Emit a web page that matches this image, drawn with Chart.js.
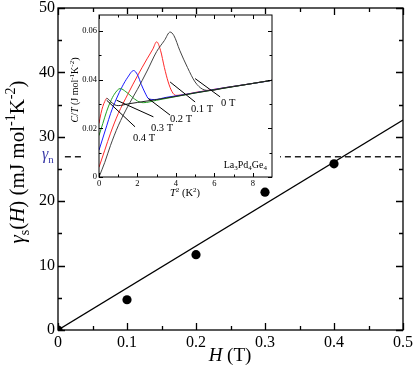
<!DOCTYPE html>
<html><head><meta charset="utf-8">
<script src="https://cdn.jsdelivr.net/npm/chart.js@4"></script>
<style>
html,body{margin:0;padding:0;background:#fff;}
#wrap{position:relative;width:415px;height:372px;overflow:hidden;}
#main{position:absolute;left:0;top:0;}
#inset{position:absolute;left:60px;top:10px;}
</style></head><body>
<div id="wrap"><canvas id="main" width="415" height="372"></canvas><canvas id="inset" width="225" height="192"></canvas></div>
<script>
// ---------- main data ----------
const fieldH = [0, 0.1, 0.2, 0.3, 0.4];
const gammaS = [0, 4.7, 11.7, 21.4, 25.8];
const fitH = [0, 0.5];
const fitGamma = [0, 32.6];
const gammaNValue = 26.9;
const gammaNRange = [0.01, 0.5];
const xTicksMain = [0, 0.1, 0.2, 0.3, 0.4, 0.5];
const xTickLabelsMain = ['0', '0.1', '0.2', '0.3', '0.4', '0.5'];
const xMinorMain = [0.05, 0.15, 0.25, 0.35, 0.45];
const yTicksMain = [0, 10, 20, 30, 40, 50];
const yTickLabelsMain = ['0', '10', '20', '30', '40', '50'];
const yMinorMain = [5, 15, 25, 35, 45];

// ---------- inset data (T^2 in K^2, C/T in J mol-1 K-2) ----------
const t2_0T = [0,0.3,0.6,1.0,1.5,2.0,2.5,3.0,3.4,3.7,3.9,4.2,4.6,5.0,5.4,5.8,6.5,7.5,8.5,9.0];
const ct_0T = [0,0.006,0.013,0.021,0.029,0.036,0.0435,0.0515,0.056,0.0595,0.058,0.052,0.045,0.039,0.036,0.0355,0.0366,0.0378,0.0391,0.0397];
const t2_01T = [0,0.3,0.6,1.0,1.5,2.0,2.5,2.8,3.0,3.2,3.4,3.6,3.8,4.0,4.5,5.0,6.0,7.0,8.0,9.0];
const ct_01T = [0.004,0.011,0.018,0.026,0.034,0.0415,0.0485,0.0525,0.0555,0.052,0.045,0.039,0.035,0.0335,0.0339,0.0347,0.036,0.0372,0.0384,0.0397];
const t2_02T = [0,0.2,0.4,0.6,0.9,1.2,1.5,1.8,2.0,2.2,2.4,2.6,2.9,3.5,4.5,5.5,6.5,7.5,8.5,9.0];
const ct_02T = [0.011,0.016,0.021,0.026,0.032,0.037,0.041,0.0437,0.042,0.038,0.0345,0.032,0.0318,0.0327,0.0339,0.0353,0.0366,0.0378,0.039,0.0397];
const t2_03T = [0,0.2,0.4,0.6,0.8,1.1,1.4,1.7,2.0,2.3,3.0,4.0,5.0,6.0,7.0,8.0,9.0];
const ct_03T = [0.017,0.022,0.027,0.031,0.034,0.0363,0.035,0.033,0.0312,0.0305,0.0315,0.033,0.0345,0.0358,0.0371,0.0384,0.0397];
const t2_04T = [0,0.1,0.2,0.3,0.4,0.6,0.8,1.0,1.5,2.0,3.0,4.0,5.0,6.0,7.0,8.0,9.0];
const ct_04T = [0.022,0.026,0.029,0.031,0.0323,0.031,0.0297,0.0293,0.03,0.0306,0.0318,0.0331,0.0345,0.0358,0.0371,0.0384,0.0397];
const fieldLabels = ['0 T', '0.1 T', '0.2 T', '0.3 T', '0.4 T'];
const labelPos = [[6.72,0.0307],[5.36,0.0282],[4.27,0.0241],[3.28,0.0204],[2.34,0.0163]];
const leaderStart = [[5.0,0.0404],[3.7,0.039],[2.57,0.0322],[0.92,0.0315],[0.4,0.0315]];
const leaderEnd = [[6.3,0.0329],[5.0,0.0308],[3.7,0.0254],[2.83,0.0247],[1.875,0.0206]];
const xTicksInset = [0, 2, 4, 6, 8];
const xTickLabelsInset = ['0', '2', '4', '6', '8'];
const xMinorInset = [1, 3, 5, 7];
const yTicksInset = [0, 0.02, 0.04, 0.06];
const yTickLabelsInset = ['0', '0.02', '0.04', '0.06'];
const yMinorInset = [0.01, 0.03, 0.05];

const FAM = "'Liberation Serif','Times New Roman',serif";
const pts = (xs, ys) => xs.map((v, i) => ({x: v, y: ys[i]}));

function drawRich(ctx, runs, x, y, size, opt) {
  opt = opt || {};
  const font = r => (r.i ? 'italic ' : '') + ((r.sub || r.sup) ? Math.round(size * 0.68) : size) + 'px ' + FAM;
  let w = 0;
  runs.forEach(r => { ctx.font = font(r); w += ctx.measureText(r.t).width; });
  ctx.save();
  ctx.translate(x, y);
  if (opt.rot) ctx.rotate(-Math.PI / 2);
  ctx.fillStyle = opt.color || '#000';
  ctx.textBaseline = 'alphabetic';
  ctx.textAlign = 'left';
  let cx = opt.align === 'left' ? 0 : opt.align === 'right' ? -w : -w / 2;
  runs.forEach(r => {
    ctx.font = font(r);
    const dy = r.sub ? size * 0.22 : r.sup ? -size * 0.42 : 0;
    ctx.fillText(r.t, cx, dy);
    cx += ctx.measureText(r.t).width;
  });
  ctx.restore();
}

const frameTicks = {
  id: 'frameTicks',
  afterDatasetsDraw(chart, args, o) {
    const {ctx, chartArea: ca, scales: {x, y}} = chart;
    ctx.save();
    ctx.strokeStyle = '#000';
    ctx.lineWidth = o.lw;
    ctx.beginPath();
    const xt = (vals, len) => vals.forEach(v => {
      const p = Math.round(x.getPixelForValue(v)) + 0.5;
      ctx.moveTo(p, ca.bottom); ctx.lineTo(p, ca.bottom - len);
      ctx.moveTo(p, ca.top); ctx.lineTo(p, ca.top + len);
    });
    const yt = (vals, len) => vals.forEach(v => {
      const p = Math.round(y.getPixelForValue(v)) + 0.5;
      ctx.moveTo(ca.left, p); ctx.lineTo(ca.left + len, p);
      ctx.moveTo(ca.right, p); ctx.lineTo(ca.right - len, p);
    });
    xt(o.xMajor, o.maj); xt(o.xMinor, o.min);
    yt(o.yMajor, o.maj); yt(o.yMinor, o.min);
    ctx.stroke();
    ctx.strokeRect(ca.left, ca.top, ca.right - ca.left, ca.bottom - ca.top);
    ctx.restore();
  }
};

const mainText = {
  id: 'mainText',
  afterDraw(chart) {
    const {ctx, chartArea: ca, scales: {y}} = chart;
    drawRich(ctx, [{t:'γ',i:1},{t:'s',sub:1},{t:'('},{t:'H',i:1},{t:') (mJ mol'},{t:'-1',sup:1},{t:'K'},{t:'-2',sup:1},{t:')'}],
      ca.left - 34, 162, 21, {rot: true});
    drawRich(ctx, [{t:'H',i:1},{t:' (T)'}], 230, 361, 19);
    drawRich(ctx, [{t:'γ',i:1},{t:'n',sub:1}], ca.left - 16, y.getPixelForValue(gammaNValue) + 2.5, 16, {align:'left', color:'#3a3aa8'});
  }
};

const insetDeco = {
  id: 'insetDeco',
  beforeDraw(chart) {
    const {ctx, chartArea: ca} = chart;
    ctx.save();
    ctx.fillStyle = '#fff';
    ctx.fillRect(ca.left - 18, ca.top - 1, (ca.right + 8) - (ca.left - 18), (ca.bottom + 9) - (ca.top - 1));
    ctx.restore();
  },
  afterDraw(chart) {
    const {ctx, chartArea: ca, scales: {x, y}} = chart;
    drawRich(ctx, [{t:'C',i:1},{t:'/'},{t:'T',i:1},{t:' (J mol'},{t:'-1',sup:1},{t:'K'},{t:'-2',sup:1},{t:')'}],
      ca.left - 21, 80, 10, {rot: true});
    drawRich(ctx, [{t:'T',i:1},{t:'2',sup:1},{t:' (K'},{t:'2',sup:1},{t:')'}], 125, 186, 10.5);
    fieldLabels.forEach((s, i) => {
      drawRich(ctx, [{t:s}], x.getPixelForValue(labelPos[i][0]), y.getPixelForValue(labelPos[i][1]) + 3.5, 10.5);
    });
    drawRich(ctx, [{t:'La'},{t:'3',sub:1},{t:'Pd'},{t:'4',sub:1},{t:'Ge'},{t:'4',sub:1}], ca.right - 5, ca.bottom - 9, 10, {align:'right'});
  }
};

const axisFont = (s) => ({family: FAM, size: s});

// ---------- main chart ----------
new Chart(document.getElementById('main'), {
  type: 'scatter',
  data: {
    datasets: [
      {data: pts(fieldH, gammaS), pointRadius: 4.6, pointBackgroundColor: '#000', pointBorderColor: '#000', borderWidth: 0, showLine: false},
      {data: pts(fitH, fitGamma), showLine: true, borderColor: '#000', borderWidth: 1.3, pointRadius: 0},
      {data: pts(gammaNRange, [gammaNValue, gammaNValue]), showLine: true, borderColor: '#222', borderWidth: 1.5, borderDash: [6, 4], pointRadius: 0}
    ]
  },
  options: {
    responsive: false, animation: false, devicePixelRatio: 1,
    layout: {padding: {top: 8, right: 12, left: 0, bottom: 0}},
    plugins: {legend: {display: false}, tooltip: {enabled: false},
      frameTicks: {lw: 1.3, maj: 7, min: 4, xMajor: xTicksMain, xMinor: xMinorMain, yMajor: yTicksMain, yMinor: yMinorMain}},
    scales: {
      x: {type: 'linear', min: 0, max: 0.5,
        grid: {display: false, drawTicks: false}, border: {display: false},
        afterBuildTicks: s => { s.ticks = xTicksMain.map(v => ({value: v})); },
        ticks: {callback: (v, i) => xTickLabelsMain[i], font: axisFont(16), color: '#000', padding: 3, maxRotation: 0, autoSkip: false},
        afterFit: s => { s.height = 42; s.paddingLeft = 0; s.paddingRight = 0; }},
      y: {type: 'linear', min: 0, max: 50,
        grid: {display: false, drawTicks: false}, border: {display: false},
        afterBuildTicks: s => { s.ticks = yTicksMain.map(v => ({value: v})); },
        ticks: {callback: (v, i) => yTickLabelsMain[i], font: axisFont(16), color: '#000', padding: 3, autoSkip: false},
        afterFit: s => { s.width = 58; s.paddingTop = 0; s.paddingBottom = 0; }}
    }
  },
  plugins: [frameTicks, mainText]
});

// ---------- inset chart ----------
const curve = (xs, ys, color, extra) => Object.assign({data: pts(xs, ys), showLine: true, borderColor: color, borderWidth: 1, pointRadius: 0, cubicInterpolationMode: 'monotone'}, extra || {});
const leaders = leaderStart.map((s, i) => ({data: [{x: s[0], y: s[1]}, {x: leaderEnd[i][0], y: leaderEnd[i][1]}], showLine: true, borderColor: '#000', borderWidth: 1, pointRadius: 0}));

new Chart(document.getElementById('inset'), {
  type: 'scatter',
  data: {
    datasets: leaders.concat([
      curve(t2_04T, ct_04T, '#222', {segment: {borderColor: c => c.p1.parsed.x <= 0.4 ? '#ff2a2a' : '#222'}}),
      curve(t2_0T, ct_0T, '#444'),
      curve(t2_03T, ct_03T, '#22a022'),
      curve(t2_02T, ct_02T, '#1a1aff'),
      curve(t2_01T, ct_01T, '#ff2a2a')
    ])
  },
  options: {
    responsive: false, animation: false, devicePixelRatio: 1,
    layout: {padding: {top: 5, right: 13, left: 0, bottom: 0}},
    plugins: {legend: {display: false}, tooltip: {enabled: false},
      frameTicks: {lw: 1, maj: 4, min: 2.5, xMajor: xTicksInset, xMinor: xMinorInset, yMajor: yTicksInset, yMinor: yMinorInset}},
    scales: {
      x: {type: 'linear', min: 0, max: 9,
        grid: {display: false, drawTicks: false}, border: {display: false},
        afterBuildTicks: s => { s.ticks = xTicksInset.map(v => ({value: v})); },
        ticks: {callback: (v, i) => xTickLabelsInset[i], font: axisFont(8.5), color: '#000', padding: 2, maxRotation: 0, autoSkip: false},
        afterFit: s => { s.height = 25; s.paddingLeft = 0; s.paddingRight = 0; }},
      y: {type: 'linear', min: 0, max: 0.0665,
        grid: {display: false, drawTicks: false}, border: {display: false},
        afterBuildTicks: s => { s.ticks = yTicksInset.map(v => ({value: v})); },
        ticks: {callback: (v, i) => yTickLabelsInset[i], font: axisFont(8.5), color: '#000', padding: 2, autoSkip: false},
        afterFit: s => { s.width = 39; s.paddingTop = 0; s.paddingBottom = 0; }}
    }
  },
  plugins: [insetDeco, frameTicks]
});
</script>
</body></html>
